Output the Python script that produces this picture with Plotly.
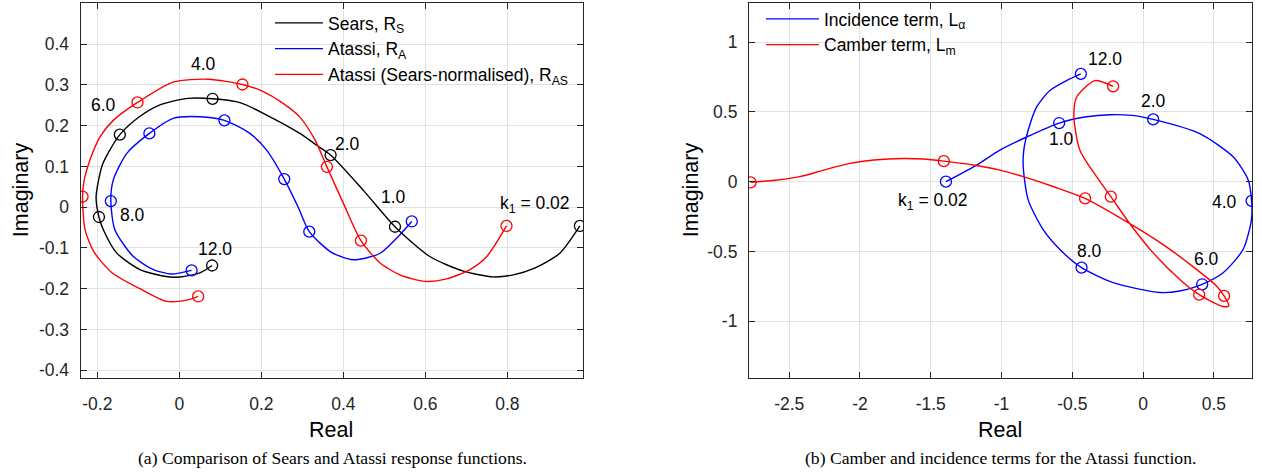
import plotly.graph_objects as go

# ---------------- data: (a) Sears / Atassi response functions ----------------
sears_re = [0.977, 0.928, 0.868, 0.815, 0.766, 0.693, 0.611, 0.526, 0.45, 0.369, 0.335, 0.294, 0.213,
            0.15, 0.081, 0.02, -0.05, -0.10, -0.145, -0.175, -0.189, -0.203, -0.196, -0.185, -0.153,
            -0.096, -0.015, 0.050, 0.080]
sears_im = [-0.046, -0.113, -0.149, -0.166, -0.171, -0.157, -0.121, -0.048, 0.040, 0.128, 0.152, 0.181,
            0.226, 0.256, 0.266, 0.267, 0.250, 0.220, 0.178, 0.130, 0.100, 0.025, -0.024, -0.056,
            -0.112, -0.153, -0.172, -0.161, -0.143]
sears_mk_re = [0.977, 0.526, 0.369, 0.081, -0.145, -0.196, 0.080]
sears_mk_im = [-0.046, -0.048, 0.128, 0.266, 0.178, -0.024, -0.143]

atassi_re = [0.567, 0.534, 0.490, 0.424, 0.37, 0.317, 0.29, 0.256, 0.213, 0.172, 0.110, 0.050, -0.015,
             -0.073, -0.128, -0.161, -0.167, -0.157, -0.112, -0.063, -0.019, 0.030]
atassi_im = [-0.035, -0.072, -0.113, -0.129, -0.110, -0.060, 0.000, 0.069, 0.140, 0.181, 0.213, 0.222,
             0.218, 0.181, 0.132, 0.067, 0.015, -0.056, -0.121, -0.153, -0.164, -0.155]
atassi_mk_re = [0.567, 0.317, 0.256, 0.110, -0.073, -0.167, 0.030]
atassi_mk_im = [-0.035, -0.060, 0.069, 0.213, 0.181, 0.015, -0.155]

norm_re = [0.798, 0.750, 0.709, 0.652, 0.599, 0.538, 0.490, 0.443, 0.400, 0.360, 0.331, 0.294, 0.254,
           0.197, 0.154, 0.071, -0.015, -0.102, -0.161, -0.193, -0.218, -0.232, -0.236, -0.230,
           -0.208, -0.165, -0.096, -0.031, 0.018, 0.046]
norm_im = [-0.046, -0.121, -0.153, -0.176, -0.182, -0.166, -0.137, -0.082, 0.010, 0.099, 0.165, 0.221,
           0.254, 0.287, 0.301, 0.314, 0.307, 0.257, 0.213, 0.173, 0.116, 0.067, 0.026, -0.055,
           -0.110, -0.160, -0.200, -0.231, -0.228, -0.219]
norm_mk_re = [0.798, 0.443, 0.360, 0.154, -0.102, -0.236, 0.046]
norm_mk_im = [-0.046, -0.082, 0.099, 0.301, 0.257, 0.026, -0.219]

# ---------------- data: (b) incidence / camber terms ----------------
inc_re = [-1.393, -1.176, -1.012, -0.823, -0.593, -0.40, -0.235, -0.08, 0.071, 0.40, 0.636, 0.742,
          0.766, 0.765, 0.706, 0.565, 0.417, 0.259, 0.118, -0.212, -0.435, -0.588, -0.706, -0.812,
          -0.847, -0.843, -0.812, -0.753, -0.659, -0.541, -0.440]
inc_im = [0.000, 0.119, 0.226, 0.320, 0.420, 0.465, 0.480, 0.475, 0.446, 0.344, 0.178, 0.012,
          -0.137, -0.273, -0.486, -0.652, -0.735, -0.783, -0.794, -0.723, -0.616, -0.486, -0.344,
          -0.130, 0.107, 0.226, 0.368, 0.534, 0.653, 0.724, 0.772]
inc_mk_re = [-1.393, -0.593, 0.071, 0.766, 0.417, -0.435, -0.440]
inc_mk_im = [0.000, 0.420, 0.446, -0.137, -0.735, -0.616, 0.772]

cam_re = [-2.773, -2.60, -2.424, -2.25, -2.071, -1.90, -1.695, -1.55, -1.408, -1.20, -1.012, -0.847,
          -0.62, -0.410, -0.094, 0.141, 0.377, 0.518, 0.572, 0.605, 0.565, 0.396, 0.259, 0.071,
          -0.094, -0.228, -0.329, -0.447, -0.489, -0.470, -0.341, -0.212]
cam_im = [-0.005, 0.010, 0.036, 0.085, 0.131, 0.155, 0.166, 0.162, 0.147, 0.120, 0.083, 0.036,
          -0.040, -0.120, -0.301, -0.451, -0.628, -0.747, -0.818, -0.890, -0.894, -0.809, -0.700,
          -0.510, -0.301, -0.107, 0.036, 0.226, 0.463, 0.605, 0.724, 0.683]
cam_mk_re = [-2.773, -1.408, -0.410, 0.572, 0.396, -0.228, -0.212]
cam_mk_im = [-0.005, 0.147, -0.120, -0.818, -0.809, -0.107, 0.683]

# tick values / labels
a_xticks = [-0.2, 0, 0.2, 0.4, 0.6, 0.8]
a_xlabels = ["-0.2", "0", "0.2", "0.4", "0.6", "0.8"]
a_yticks = [-0.4, -0.3, -0.2, -0.1, 0, 0.1, 0.2, 0.3, 0.4]
a_ylabels = ["-0.4", "-0.3", "-0.2", "-0.1", "0", "0.1", "0.2", "0.3", "0.4"]
b_xticks = [-2.5, -2, -1.5, -1, -0.5, 0, 0.5]
b_xlabels = ["-2.5", "-2", "-1.5", "-1", "-0.5", "0", "0.5"]
b_yticks = [-1, -0.5, 0, 0.5, 1]
b_ylabels = ["-1", "-0.5", "0", "0.5", "1"]

# frequency labels (text, re, im)
a_labels = [("4.0", 0.058, 0.352), ("6.0", -0.184, 0.250), ("8.0", -0.113, -0.020),
            ("2.0", 0.411, 0.156), ("1.0", 0.522, 0.026), ("k<sub>1</sub> = 0.02", 0.868, 0.006),
            ("12.0", 0.087, -0.103)]
b_labels = [("12.0", -0.27, 0.878), ("2.0", 0.071, 0.580), ("1.0", -0.576, 0.309),
            ("4.0", 0.577, -0.142), ("6.0", 0.448, -0.557), ("8.0", -0.381, -0.498),
            ("k<sub>1</sub> = 0.02", -1.485, -0.142)]

# ---------------- figure ----------------
W, H = 1262, 473
FONT = "Liberation Sans, Arial, Helvetica, sans-serif"
LW = 1.4
MS = 11
FS = 17.5

fig = go.Figure()

def add_curve(xs, ys, mx, my, color, name, xa, ya, legend):
    fig.add_trace(go.Scatter(x=xs, y=ys, mode="lines", name=name,
                             line=dict(color=color, width=LW, shape="spline", smoothing=0.7),
                             xaxis=xa, yaxis=ya, legend=legend))
    fig.add_trace(go.Scatter(x=mx, y=my, mode="markers", showlegend=False,
                             marker=dict(symbol="circle-open", size=MS, color=color,
                                         line=dict(width=1.3, color=color)),
                             xaxis=xa, yaxis=ya))

add_curve(sears_re, sears_im, sears_mk_re, sears_mk_im, "black", "Sears, R<sub>S</sub>", "x", "y", "legend")
add_curve(atassi_re, atassi_im, atassi_mk_re, atassi_mk_im, "blue", "Atassi, R<sub>A</sub>", "x", "y", "legend")
add_curve(norm_re, norm_im, norm_mk_re, norm_mk_im, "red",
          "Atassi (Sears-normalised), R<sub>AS</sub>", "x", "y", "legend")
add_curve(inc_re, inc_im, inc_mk_re, inc_mk_im, "blue", "Incidence term, L<sub>α</sub>", "x2", "y2", "legend2")
add_curve(cam_re, cam_im, cam_mk_re, cam_mk_im, "red", "Camber term, L<sub>m</sub>", "x2", "y2", "legend2")

axcol = "#262626"
def ax_style(tv, tt, rng, dom, anchor, standoff):
    return dict(range=rng, domain=dom, anchor=anchor, tickvals=tv, ticktext=tt, showline=True,
                mirror="ticks", linecolor=axcol, linewidth=1.2, ticks="inside", ticklen=6,
                tickcolor=axcol, tickwidth=1.2, showgrid=True, gridcolor="#e2e2e2", gridwidth=1,
                zeroline=False, ticklabelstandoff=standoff,
                tickfont=dict(family=FONT, size=FS, color=axcol))

ydom = [(H - 380) / H, (H - 3) / H]
fig.update_layout(
    width=W, height=H, margin=dict(l=0, r=0, t=0, b=0),
    paper_bgcolor="white", plot_bgcolor="white",
    xaxis=ax_style(a_xticks, a_xlabels, [-0.2405, 0.9846], [80.7 / W, 583 / W], "y", 10),
    yaxis=ax_style(a_yticks, a_ylabels, [-0.420, 0.501], ydom, "x", 7),
    xaxis2=ax_style(b_xticks, b_xlabels, [-2.784, 0.769], [749 / W, 1252 / W], "y2", 10),
    yaxis2=ax_style(b_yticks, b_ylabels, [-1.409, 1.280], ydom, "x2", 7),
    legend=dict(x=270 / W, y=1 - 5 / H, xanchor="left", yanchor="top", bgcolor="rgba(0,0,0,0)",
                itemwidth=48, font=dict(family=FONT, size=FS, color="black")),
    legend2=dict(x=761 / W, y=1 - 1 / H, xanchor="left", yanchor="top", bgcolor="rgba(0,0,0,0)",
                 itemwidth=53, font=dict(family=FONT, size=FS, color="black")),
    showlegend=True,
)

# white legend backgrounds covering grid
fig.add_shape(type="rect", xref="paper", yref="paper", x0=267 / W, x1=583 / W,
              y0=1 - 88 / H, y1=1 - 3 / H, fillcolor="white", line_width=0, layer="below")
fig.add_shape(type="rect", xref="paper", yref="paper", x0=749 / W, x1=979 / W,
              y0=1 - 63 / H, y1=1 - 3 / H, fillcolor="white", line_width=0, layer="below")

ann = []
for t, x, y in a_labels:
    ann.append(dict(text=t, x=x, y=y, xref="x", yref="y", showarrow=False,
                    font=dict(family=FONT, size=FS, color="black")))
for t, x, y in b_labels:
    ann.append(dict(text=t, x=x, y=y, xref="x2", yref="y2", showarrow=False,
                    font=dict(family=FONT, size=FS, color="black")))
tf = dict(family=FONT, size=21.5, color="black")
def pann(text, px, py, font, angle=0):
    return dict(text=text, x=px / W, y=1 - py / H, xref="paper", yref="paper", showarrow=False,
                xanchor="center", yanchor="middle", textangle=angle, font=font)
ann += [
    pann("Real", 331, 432, tf), pann("Real", 1000, 432, tf),
    pann("Imaginary", 21, 191, tf, -90), pann("Imaginary", 691, 191, tf, -90),
]
cf = dict(family="Liberation Serif, Times New Roman, serif", size=17.6, color="black")
ann += [
    pann("(a) Comparison of Sears and Atassi response functions.", 332, 460, cf),
    pann("(b) Camber and incidence terms for the Atassi function.", 1000, 460, cf),
]
fig.update_layout(annotations=ann)

fig.write_html("out.html")
